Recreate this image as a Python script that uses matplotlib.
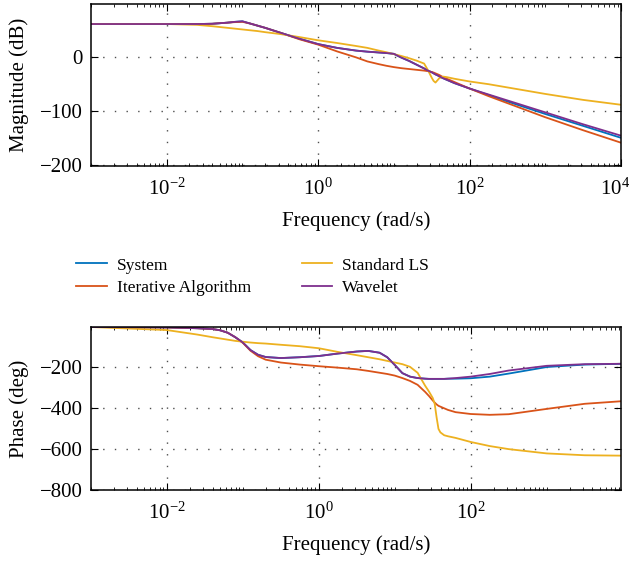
"""Bode plot comparison: system vs. identified models (magnitude and phase)."""

import numpy as np
import matplotlib
matplotlib.use("Agg")
import matplotlib.pyplot as plt
import matplotlib.transforms as mtransforms
from matplotlib.ticker import LogLocator, FixedLocator, NullFormatter

# frequency grid, log10(rad/s)
log_freq = [-3, -2, -1.6, -1.4, -1.3, -1.2, -1.1, -1.0, -0.9, -0.8, -0.7, -0.5,
            -0.25, 0, 0.25, 0.5, 0.65, 0.8, 0.9, 1.0, 1.1, 1.2, 1.3, 1.4, 1.45,
            1.5, 1.525, 1.55, 1.575, 1.6, 1.65, 1.7, 1.8, 2.0, 2.25, 2.5, 3.0,
            3.5, 4.0]

series_names = ["System", "Iterative Algorithm", "Standard LS", "Wavelet"]

# magnitude (dB)
mag_system = [60, 60, 60, 60.5, 61.5, 62.5, 64, 65, 61, 57, 53, 44, 33, 23, 16,
              11, 9, 7.5, 6.5, 5, -2, -8, -15, -22, -26, -29, -31, -33, -34.5,
              -36.5, -40, -43, -49, -59, -71, -83, -106, -128, -150]
mag_iterative = [60, 60, 60, 60.5, 61.5, 62.5, 63.5, 64, 61, 57, 53, 44, 32, 22,
                 9.5, -1.5, -9, -14, -17, -19.5, -21.5, -23, -24.5, -26, -27,
                 -28.5, -29.5, -31, -32.5, -34, -38, -41, -47, -59, -73, -86,
                 -112, -136, -159]
mag_ls = [60, 60, 58.5, 56, 54.5, 53, 51.5, 50, 48.5, 47, 45, 41.5, 36, 30, 25,
          19.5, 16, 11, 8, 4.5, 1, -3, -7.5, -13, -25, -39, -45, -48, -44, -40,
          -37, -38, -41, -46, -51, -57, -69, -80, -89]
mag_wavelet = [60, 60, 60, 60.5, 61.5, 62.5, 64, 65, 61, 57, 53, 44, 33, 23, 16,
               11, 9, 7.5, 6.5, 5, -2, -8, -15, -22, -26, -29, -31, -33, -34.5,
               -36.5, -40, -43, -49, -59, -70, -81, -103, -125, -146]

# phase (deg)
phase_system = [-2, -4, -8, -12, -18, -30, -52, -78, -115, -138, -149, -154, -150,
                -144, -132, -122, -119, -128, -150, -188, -228, -245, -252, -255,
                -256, -256, -256, -256, -256, -256, -256, -255, -255, -253, -245,
                -230, -198, -186, -182]
phase_iterative = [-2, -4, -8, -12, -18, -30, -52, -80, -118, -145, -162, -176,
                   -186, -194, -201, -209, -217, -226, -232, -240, -252, -266,
                   -285, -320, -340, -362, -372, -381, -388, -392, -400, -408,
                   -419, -428, -432, -429, -403, -378, -365]
phase_ls = [-2, -17, -39, -52, -58, -64, -70, -74, -78, -81, -83, -89, -96, -106,
            -124, -140, -150, -160, -168, -176, -184, -197, -226, -290, -318, -350,
            -378, -444, -501, -518, -532, -537, -545, -565, -585, -600, -621, -630,
            -632]
phase_wavelet = [-2, -4, -8, -12, -18, -30, -52, -78, -115, -138, -149, -154, -150,
                 -144, -132, -122, -119, -128, -150, -188, -228, -245, -252, -255,
                 -256, -256, -256, -256, -256, -256, -256, -255, -252, -245, -232,
                 -215, -192, -184, -182]

colors = ["#0072BD", "#D95319", "#EDB120", "#7E2F8E"]

plt.rcParams["font.family"] = ["Liberation Serif", "DejaVu Serif"]
plt.rcParams["mathtext.fontset"] = "custom"
plt.rcParams["mathtext.rm"] = "Liberation Serif"
plt.rcParams["mathtext.it"] = "Liberation Serif:italic"
plt.rcParams["font.size"] = 15


def style_axis(ax, xmax, yticks):
    ax.set_xscale("log")
    ax.set_xlim(1e-3, xmax)
    ax.xaxis.set_major_locator(FixedLocator([1e-2, 1e0, 1e2, 1e4]))
    ax.xaxis.set_minor_locator(LogLocator(base=10, subs=np.arange(1, 10), numticks=30))
    ax.xaxis.set_minor_formatter(NullFormatter())
    ax.set_yticks(yticks)
    ax.tick_params(which="both", direction="in", top=True, right=True, colors="black")
    ax.tick_params(which="major", length=5, width=0.8, pad=6)
    ax.tick_params(axis="x", which="major", pad=9)
    ax.tick_params(which="minor", length=2.5, width=0.6)
    ax.grid(True, which="major", color="0.3", linewidth=1.0, linestyle=(0, (1, 7.4)))
    for spine in ax.spines.values():
        spine.set_linewidth(1.1)
    ax.set_xlabel("Frequency (rad/s)", labelpad=8)


freq = 10 ** np.array(log_freq)

fig = plt.figure(figsize=(6.3, 5.61), dpi=100)
ax_mag = fig.add_axes([0.1444, 0.7041, 0.8413, 0.2888])
ax_ph = fig.add_axes([0.1444, 0.1266, 0.8413, 0.2905])

mags = [mag_system, mag_iterative, mag_ls, mag_wavelet]
phases = [phase_system, phase_iterative, phase_ls, phase_wavelet]

lines = []
for name, color, mag, ph in zip(series_names, colors, mags, phases):
    (ln,) = ax_mag.plot(freq, mag, color=color, linewidth=1.3, label=name)
    ax_ph.plot(freq, ph, color=color, linewidth=1.3)
    lines.append(ln)

style_axis(ax_mag, 1e4, [-200, -100, 0])
ax_mag.set_ylim(-202, 97)
ax_mag.set_ylabel("Magnitude (dB)")

style_axis(ax_ph, 9.5e3, [-800, -600, -400, -200])
ax_ph.set_ylim(-800, -2)
ax_ph.set_ylabel("Phase (deg)")

for ax in (ax_mag, ax_ph):
    ax.yaxis.set_label_coords(-0.117, 0.5)

# keep the last magnitude tick label (10^4) inside the figure
fig.canvas.draw()
last_label = ax_mag.get_xticklabels()[-1]
last_label.set_transform(last_label.get_transform()
                         + mtransforms.ScaledTranslation(-6 / 100, 0, fig.dpi_scale_trans))

fig.legend(lines, series_names, ncol=2, frameon=False, fontsize=12.5,
           loc="center left", bbox_to_anchor=(0.121, 0.507),
           handlelength=1.75, handletextpad=0.6, columnspacing=2.9,
           labelspacing=0.35, borderpad=0, borderaxespad=0)

fig.savefig("out.png", dpi=100)
